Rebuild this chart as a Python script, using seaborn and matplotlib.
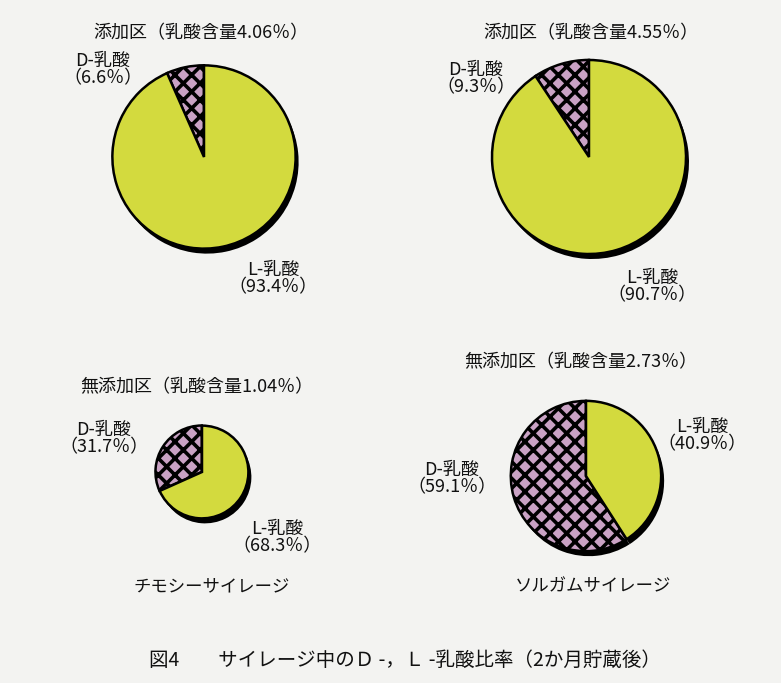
import numpy as np
import matplotlib
matplotlib.use("Agg")
import matplotlib.pyplot as plt
import seaborn as sns

# --- data -------------------------------------------------------------
silages = ["チモシーサイレージ", "ソルガムサイレージ"]
treatments = ["添加区", "添加区", "無添加区", "無添加区"]
lactic_total = [4.06, 4.55, 1.04, 2.73]          # 乳酸含量 (%)
d_ratio = [6.6, 9.3, 31.7, 59.1]                 # D-乳酸 (%)
l_ratio = [93.4, 90.7, 68.3, 40.9]               # L-乳酸 (%)
caption = "図4　　サイレージ中のＤ -，Ｌ -乳酸比率（2か月貯蔵後）"

# --- style --------------------------------------------------------------
sns.set_theme(style="white")
plt.rcParams["font.family"] = ["Noto Sans CJK JP", "DejaVu Sans"]
plt.rcParams["hatch.linewidth"] = 2.6

W, H = 781, 683
BG = "#f3f3f1"
L_COLOR = "#d3da3e"
D_COLOR = "#c9a2c4"

fig = plt.figure(figsize=(W / 100, H / 100), dpi=100, facecolor=BG)
ax = fig.add_axes([0, 0, 1, 1])
ax.set_facecolor(BG)

# layout in pixel units (origin top-left)
centers = [(204, 157), (589, 157), (202, 472), (586, 476)]
R_MAX = 97
explode_d = [0.08, 0.08, 0.20, 0.09]
title_pos = [(201, 33), (591, 33), (197, 387), (581, 362)]
d_label_pos = [(103, 70), (476, 79), (104, 439), (452, 479)]
l_label_pos = [(273, 279), (652, 287), (277, 538), (702, 436)]
silage_pos = [(212, 586), (593, 586)]


def py(y):
    return H - y


for i in range(4):
    cx, cy = centers[i]
    r = R_MAX * np.sqrt(lactic_total[i] / max(lactic_total))
    vals = [d_ratio[i], l_ratio[i]]
    expl = [explode_d[i], 0.0]

    # drop shadow
    sh, _ = ax.pie(vals, center=(cx + 3, py(cy) - 5), radius=r, startangle=90,
                   counterclock=True, explode=expl, colors=["black", "black"],
                   wedgeprops=dict(linewidth=0), frame=True)
    for w in sh:
        w.set_zorder(1)

    wedges, _ = ax.pie(vals, center=(cx, py(cy)), radius=r, startangle=90,
                       counterclock=True, explode=expl,
                       colors=[D_COLOR, L_COLOR],
                       wedgeprops=dict(edgecolor="black", linewidth=1.8),
                       frame=True)
    for w in wedges:
        w.set_zorder(2)
    wedges[0].set_hatch("xx")

    tx, ty = title_pos[i]
    ax.text(tx, py(ty), f"{treatments[i]}（乳酸含量{lactic_total[i]:.2f}％）",
            ha="center", va="center", fontsize=13, color="#111111")
    dx, dy = d_label_pos[i]
    ax.text(dx, py(dy), f"D-乳酸\n（{d_ratio[i]:.1f}％）", ha="center",
            va="center", multialignment="center", fontsize=13,
            linespacing=0.95, color="#111111")
    lx, ly = l_label_pos[i]
    ax.text(lx, py(ly), f"L-乳酸\n（{l_ratio[i]:.1f}％）", ha="center",
            va="center", multialignment="center", fontsize=13,
            linespacing=0.95, color="#111111")

for name, (sx, sy) in zip(silages, silage_pos):
    ax.text(sx, py(sy), name, ha="center", va="center", fontsize=12.5,
            color="#111111")

ax.text(405, py(660), caption, ha="center", va="center", fontsize=14,
        color="#111111")

ax.set_xlim(0, W)
ax.set_ylim(0, H)
ax.set_aspect("equal")
ax.axis("off")

fig.savefig("out.png", dpi=100, facecolor=BG)
